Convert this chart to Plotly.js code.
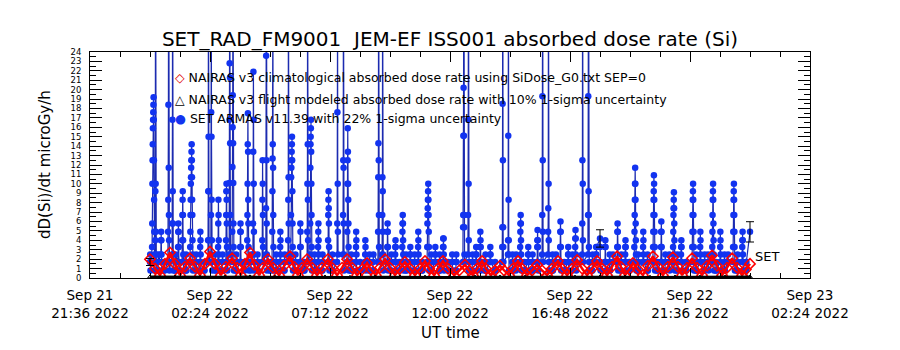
<!DOCTYPE html>
<html>
<head>
<meta charset="utf-8">
<script src="https://cdn.plot.ly/plotly-3.0.1.min.js"></script>
<style>html,body{margin:0;padding:0;background:#fff;}#chart{width:900px;height:350px;}</style>
</head>
<body>
<div id="chart"></div>
<script>
// ---- data (minutes after 2022-09-22 00:00 UT) ----
const xTickVals = ['2022-09-21 21:36','2022-09-22 02:24','2022-09-22 07:12','2022-09-22 12:00','2022-09-22 16:48','2022-09-22 21:36','2022-09-23 02:24'];
const xTickText = ['Sep 21<br>21:36 2022','Sep 22<br>02:24 2022','Sep 22<br>07:12 2022','Sep 22<br>12:00 2022','Sep 22<br>16:48 2022','Sep 22<br>21:36 2022','Sep 23<br>02:24 2022'];

// SET ARMAS: sample groups (start minute) and the dose-rate samples in each group
const blueColTime = [0,5,12,19,26,34,43,53,60,67,
77,86,96,110,120,130,139,146,156,163,
173,182,190,197,206,216,226,233,242,247,
257,269,278,288,293,302,312,322,331,338,
348,360,370,377,384,394,403,413,427,437,
449,463,473,482,494,504,516,526,535,547,
557,569,578,588,598,605,614,624,634,643,
653,665,674,684,694,703,715,725,734,751,
763,773,782,792,804,816,828,845,859,869,
878,888,898,907,917,929,941,955,965,974,
984,994,1003,1013,1020,1037,1051,1061,1070,1080,
1092,1102,1111,1121,1130,1140,1150,1162,1171,1183,
1193,1207,1217,1226,1236,1246,1255,1265,1274,1286,
1301,1310,1320,1330,1339,1349,1358,1368,1378,1387,
1399,1409,1421,1430,1440];
const blueColVals = [
[1.7,2.5,1.7,0.8],
[3.3,5.8,10.0,12.5,14.2,15.9,16.8,17.6,18.4,19.2,16.8,12.5,8.3,4.9,2.5,0.8],
[1.7,4.0,9.2,40,10.0,4.9,2.5,1.7,0.8],
[0.8,1.7,0.8,2.5,1.7],
[2.5,4.0,4.9,4.0,2.5,1.7,0.8],
[0.8,1.7,0.8],
[1.7,4.9,8.3,18.4,45,11.7,6.7,4.0,1.7,0.8],
[2.5,5.8,16.8,38,9.2,5.8,2.5,0.8],
[0.8,1.7,0.8,2.5],
[1.7,3.3,4.9,5.8,4.9,3.3,1.7,0.8],
[1.7,4.0,6.7,8.3,9.2,6.7,4.0,2.5,1.7,0.8],
[0.8,1.7,2.5,1.7,0.8],
[1.7,3.3,4.9,6.7,8.3,10.0,10.7,11.7,12.5,13.4,14.2,12.5,10.7,8.3,6.7,4.0,2.5,1.7,0.8],
[0.8,1.7,2.5,1.7,0.8],
[1.7,3.3,4.9,4.0,2.5,0.8],
[0.8,1.7,0.8],
[1.7,4.0,9.2,35,15.0,9.2,4.0,1.7],
[2.5,6.7,17.6,30,15.0,8.3,4.0,1.7,0.8],
[0.8,1.7,2.5,1.7,0.8],
[1.7,3.3,5.8,8.3,6.7,4.0,2.5,0.8],
[0.8,1.7,0.8,2.5,1.7],
[1.7,4.0,6.7,9.2,10.0,8.3,5.8,3.3,1.7,0.8],
[2.5,10.1,16.8,22.8,40,21.3,14.3,6.7,2.5],
[1.7,4.9,11.8,16.0,19.4,35,14.3,10.1,5.8,3.3,1.7,0.8],
[0.8,1.7,2.5,1.7,0.8],
[1.7,3.3,4.9,5.8,4.9,3.3,1.7],
[0.8,1.7,0.8],
[1.7,4.0,6.7,10.0,14.2,17.5,13.4,8.3,5.8,3.3,1.7,0.8],
[0.8,1.7,2.5,1.7],
[2.5,5.8,13.4,21.9,16.8,10.0,4.9,2.5,0.8],
[0.8,1.7,0.8,2.5,1.7,0.8],
[1.7,4.0,8.3,12.5,10.0,6.7,3.3,1.7],
[2.5,7.4,23.6,45,12.5,5.8,2.5,0.8],
[0.8,1.7,0.8],
[1.7,4.9,9.2,12.7,14.2,30,11.7,6.7,3.3,1.7,0.8],
[0.8,1.7,2.5,1.7,0.8],
[1.7,3.3,4.9,4.0,2.5,0.8],
[0.8,1.7,0.8,2.5,1.7],
[1.7,4.0,8.3,40,10.7,5.8,2.5],
[2.5,6.7,10.7,11.7,12.5,13.4,14.2,15.0,12.5,9.2,5.8,3.3,1.7,0.8],
[0.8,1.7,0.8,2.5,1.7],
[1.7,3.3,5.8,4.9,3.3,1.7,0.8],
[0.8,1.7,0.8],
[1.7,4.9,10.0,35,14.2,8.3,4.0,1.7],
[2.5,5.8,11.7,14.2,15.0,15.9,16.8,13.4,10.0,6.7,3.3,1.7,0.8],
[0.8,1.7,2.5,1.7,0.8],
[1.7,3.3,4.9,5.8,4.0,2.5,0.8],
[0.8,1.7,0.8,2.5,1.7],
[1.7,4.0,6.7,8.3,9.2,7.4,5.8,3.3,1.7,0.8],
[0.8,1.7,2.5,1.7,0.8],
[1.7,5.8,17.6,30,10.0,4.9,2.5],
[2.5,6.7,12.5,38,11.7,5.8,2.5,0.8],
[1.7,4.9,10.0,12.5,15.9,13.4,10.0,8.3,5.8,3.3,1.7,0.8],
[0.8,1.7,0.8,2.5,1.7,0.8],
[1.7,3.3,4.9,4.0,2.5,0.8],
[0.8,1.7,0.8],
[1.7,2.5,4.0,3.3,1.7,0.8],
[0.8,1.7,2.5,1.7,0.8],
[0.8,1.7,0.8,2.5],
[1.7,4.9,10.7,14.3,40,12.5,6.7,3.3,1.7],
[2.5,6.7,10.7,35,9.2,4.9,2.5,0.8],
[1.7,3.3,4.9,5.8,4.9,3.3,1.7,0.8],
[0.8,1.7,0.8,2.5,1.7],
[1.7,2.5,3.3,4.0,3.3,1.7,0.8],
[0.8,1.7,0.8],
[1.7,3.3,4.9,5.8,6.7,5.8,4.0,2.5,1.7,0.8],
[0.8,1.7,2.5,1.7,0.8],
[1.7,2.5,3.3,2.5,1.7,0.8],
[0.8,1.7,0.8,2.5,1.7],
[1.7,3.3,4.9,4.0,2.5,0.8],
[0.8,1.7,0.8],
[1.7,3.3,5.8,6.7,7.4,8.3,9.2,10.0,8.3,6.7,4.9,3.3,1.7,0.8],
[0.8,1.7,2.5,1.7,0.8],
[1.7,2.5,3.3,2.5,1.7],
[0.8,1.7,0.8,2.5,1.7,0.8],
[1.7,3.3,4.2,3.3,4.2,2.5,1.7,0.8],
[0.8,1.7,0.8],
[1.7,2.5,1.7,0.8],
[0.8,1.7,0.8,2.5,1.7],
[1.7,5.4,6.7,15.1,20.2,45,15.1,6.7,5.4,2.5,1.7],
[2.5,6.7,16.8,38,10.0,4.0,1.7,0.8],
[0.8,1.7,0.8,2.5,1.7],
[1.7,2.5,3.3,2.5,1.7,0.8],
[1.7,3.3,4.9,4.0,3.3,1.7,0.8],
[0.8,1.7,0.8,2.5,1.7,0.8],
[1.7,2.5,3.3,2.5,1.7],
[0.8,1.7,0.8],
[1.7,3.3,5.4,18.5,45,12.5,5.4,3.3,1.7],
[2.5,4.0,15.1,40,8.3,4.0,2.5,0.8],
[0.8,1.7,0.8,2.5,1.7,0.8],
[0.8,1.7,2.5,1.7],
[1.7,3.3,4.9,5.8,6.7,5.8,4.0,2.5,1.7,0.8],
[0.8,1.7,0.8],
[1.7,2.5,3.3,2.5,1.7,0.8],
[0.8,1.7,0.8,2.5,1.7],
[1.7,3.3,4.0,5.1,4.0,3.3,1.7,0.8],
[2.5,6.7,19.3,45,12.5,4.9,1.7],
[2.5,4.9,7.4,35,10.0,4.0,1.7,0.8],
[0.8,1.7,0.8,2.5,1.7,0.8],
[1.7,2.5,1.7],
[1.7,3.3,4.9,6.0,4.9,3.3,1.7,0.8],
[0.8,1.7,0.8],
[1.7,2.5,3.3,2.5,1.7,0.8],
[0.8,1.7,2.5,1.7],
[1.7,3.3,4.2,5.1,4.2,2.5,1.7,0.8],
[2.5,5.8,12.5,40,10.0,4.0,1.7],
[2.5,6.7,19.3,45,9.2,6.7,3.3,1.7,0.8],
[0.8,1.7,0.8,2.5,1.7],
[1.7,2.5,3.3,2.5,1.7,3.3],
[4.2,3.3,1.7,0.8],
[1.7,3.3,4.0,3.3,1.7,0.8],
[0.8,1.7,0.8,2.5,1.7,0.8],
[1.7,2.5,1.7],
[1.7,3.3,4.9,5.8,4.9,3.3,1.7,0.8],
[0.8,1.7,0.8,2.5,1.7],
[1.7,2.5,3.3,4.0,3.3,1.7,0.8],
[0.8,1.7,0.8],
[1.7,3.3,4.9,6.7,8.3,10.0,11.7,10.0,8.3,5.8,4.0,2.5,1.7,0.8],
[0.8,1.7,2.5,1.7,0.8],
[1.7,3.3,4.9,4.0,2.5,1.7],
[0.8,1.7,0.8,2.5,1.7,0.8],
[1.7,3.3,4.9,6.7,8.3,9.2,10.9,10.0,8.3,6.7,4.9,3.3,1.7,0.8],
[0.8,1.7,0.8],
[1.7,3.3,4.9,6.0,4.9,3.3,1.7,0.8],
[0.8,1.7,2.5,1.7],
[1.7,2.5,1.7,0.8],
[1.7,3.3,4.9,6.7,7.4,8.3,9.1,7.4,5.8,4.0,2.5,1.7,0.8],
[0.8,1.7,0.8,2.5,1.7],
[1.7,2.5,3.3,4.0,3.3,1.7,0.8],
[0.8,1.7,0.8],
[1.7,3.3,4.9,6.7,8.3,9.2,10.0,8.3,6.7,4.9,3.3,1.7,0.8],
[0.8,1.7,2.5,1.7,0.8],
[1.7,3.3,4.9,4.0,2.5,1.7],
[0.8,1.7,0.8,2.5,1.7],
[1.7,2.5,1.7,0.8],
[1.7,3.3,4.9,6.7,8.3,9.2,10.0,8.3,5.8,4.0,2.5,1.7,0.8],
[0.8,1.7,0.8],
[1.7,3.3,4.9,4.0,2.5,0.8],
[0.8,1.7,2.5,1.7,0.8],
[1.7,2.5,1.7],
[1.7,3.3,4.9,6.7,8.3,9.2,10.0,8.3,6.7,4.9,3.3,1.7,0.8],
[0.8,1.7,0.8,2.5,1.7],
[1.7,3.3,4.0,4.9,4.0,2.5,1.7,0.8],
[0.8,1.7,0.8,1.7],
[4.9]
];
const blueSampleStep = 0.4; // minutes between samples inside a group

// ARMAS points shown with 22% 1-sigma error bars
const armasErrT = [0, 1080, 1440];
const armasErrV = [1.7, 4.2, 4.9];
const armasUnc = 0.22;

// NAIRAS v3 climatological (red diamonds)
const redT = [0,12,24,36,48,60,72,84,96,108,120,132,144,156,170,182,197,209,218,228,240,250,262,271,283,295,310,322,336,346,355,365,377,389,401,413,427,437,449,461,473,485,497,509,521,530,542,552,564,576,588,600,612,624,636,648,660,670,682,691,703,715,730,742,756,766,775,785,797,806,818,828,840,850,862,871,883,893,905,917,929,941,953,965,979,989,1001,1013,1025,1037,1049,1061,1073,1085,1097,1109,1121,1130,1140,1150,1159,1171,1183,1195,1207,1219,1231,1243,1255,1267,1277,1289,1301,1313,1325,1337,1349,1361,1373,1385,1397,1409,1421,1430,1440];
const redV = [2.0,1.0,0.3,1.5,2.7,1.5,0.3,1.2,2.1,1.2,0.3,1.5,2.8,1.5,0.3,1.2,2.1,1.1,0.3,1.5,2.7,1.4,0.3,1.1,2.0,1.1,0.3,1.3,2.3,1.2,0.3,1.1,2.0,1.1,0.3,1.1,2.0,1.1,0.3,1.1,2.0,1.1,0.3,0.9,1.6,0.9,0.3,1.1,2.0,1.1,0.3,1.0,1.7,1.0,0.3,1.0,1.8,1.0,0.3,1.0,1.8,1.0,0.3,0.8,1.4,0.8,0.3,1.0,1.8,1.0,0.3,0.8,1.3,0.8,0.3,1.0,1.8,1.0,0.3,0.8,1.4,0.8,0.3,1.0,1.8,1.0,0.3,1.0,1.9,1.0,0.3,1.0,1.8,1.0,0.3,1.2,2.3,1.2,0.3,0.9,1.6,0.9,0.3,1.3,2.3,1.2,0.3,1.2,2.2,1.2,0.3,1.1,2.1,1.1,0.3,1.3,2.4,1.3,0.3,1.1,2.1,1.1,0.3,0.9,1.5];

// NAIRAS v3 flight modeled (black triangles)
const flightT = [0,60,120,180,240,300,360,420,480,540,600,660,720,780,840,900,960,1020,1080,1140,1200,1260,1320,1380,1440];
const flightV = [0.12,0.10,0.08,0.10,0.12,0.09,0.10,0.11,0.08,0.10,0.12,0.10,0.09,0.10,0.11,0.10,0.08,0.10,0.12,0.10,0.09,0.11,0.10,0.10,0.12];

// ---- build ----
function minToDate(m){
  const d = new Date(Date.UTC(2022,8,22,0,0,0) + Math.round(m*60000));
  return d.toISOString().replace('T',' ').replace('Z','');
}
const bx = [], by = [];
const nCol = Math.min(blueColTime.length, blueColVals.length);
for (let c = 0; c < nCol; c++) {
  const vals = blueColVals[c];
  for (let i = 0; i < vals.length; i++) {
    bx.push(minToDate(blueColTime[c] + i*blueSampleStep));
    by.push(vals[i]);
  }
}

const FONT = 'DejaVu Sans, Liberation Sans, sans-serif';

const traces = [
  {x: bx, y: by, type:'scatter', mode:'lines+markers',
   line:{color:'#1c2bb0', width:1.2},
   marker:{color:'#1233f0', size:6.5, symbol:'circle'}, hoverinfo:'skip'},
  {x: redT.map(minToDate), y: redV, type:'scatter', mode:'lines+markers',
   line:{color:'#ff0000', width:2.5},
   marker:{color:'#ff0000', size:8, symbol:'diamond-open', line:{width:1.5, color:'#ff0000'}}, hoverinfo:'skip'},
  {x: flightT.map(minToDate), y: flightV, type:'scatter', mode:'lines+markers',
   line:{color:'#000000', width:2.5},
   marker:{color:'#000000', size:4, symbol:'triangle-up-open'}, hoverinfo:'skip'},
  {x: armasErrT.map(minToDate), y: armasErrV, type:'scatter', mode:'markers',
   marker:{color:'rgba(0,0,0,0)', size:1},
   error_y:{type:'data', array: armasErrV.map(v=>v*armasUnc), color:'#000000', thickness:1, width:4}, hoverinfo:'skip'}
];

const layout = {
  width: 900, height: 350,
  margin: {l:90, r:90, t:52, b:72},
  paper_bgcolor:'#ffffff', plot_bgcolor:'#ffffff',
  showlegend: false,
  font: {family: FONT, color:'#000000'},
  title: {text:'SET_RAD_FM9001\u00A0 JEM-EF ISS001 absorbed dose rate (Si)',
          font:{family: FONT, size:20, color:'#000'},
          x:0.5, xanchor:'center', y:0.89, yanchor:'middle', yref:'container'},
  xaxis: {
    type:'date', range:['2022-09-21 21:36','2022-09-23 02:24'],
    tickmode:'array', tickvals: xTickVals, ticktext: xTickText,
    ticks:'inside', ticklen:10, tickcolor:'#000', tickwidth:1,
    showline:true, linecolor:'#000', linewidth:1, mirror:'ticks',
    showgrid:false, zeroline:false,
    tickfont:{family: FONT, size:13.5, color:'#000'},
    ticklabelstandoff: 5,
    minor:{tick0:'2022-09-21 21:36', dtick: 4320000, ticks:'inside', ticklen:5, tickcolor:'#000', showgrid:false}
  },
  yaxis: {
    range:[0,24], tick0:0, dtick:1,
    ticks:'inside', ticklen:12, tickcolor:'#000', tickwidth:1,
    showline:true, linecolor:'#000', linewidth:1, mirror:'ticks',
    showgrid:false, zeroline:false,
    tickfont:{family: FONT, size:8.5, color:'#000'},
    ticklabelstandoff: 6,
    minor:{dtick:0.5, ticks:'inside', ticklen:6, tickcolor:'#000', showgrid:false}
  },
  annotations: [
    {xref:'paper', yref:'paper', x:0.5, y:-0.245, text:'UT time', showarrow:false,
     xanchor:'center', yanchor:'middle', font:{family: FONT, size:15, color:'#000'}},
    {xref:'paper', yref:'paper', x:-0.0625, y:0.5, text:'dD(Si)/dt microGy/h', showarrow:false,
     textangle:-90, xanchor:'center', yanchor:'middle', font:{family: FONT, size:15, color:'#000'}},
    {xref:'paper', yref:'paper', x:0.115, y:0.885, xanchor:'left', yanchor:'middle', showarrow:false,
     text:'<span style="color:#e00000">\u25C7</span> NAIRAS v3 climatological absorbed dose rate using SiDose_G0.txt SEP=0',
     font:{family: FONT, size:12.5, color:'#000'}},
    {xref:'paper', yref:'paper', x:0.115, y:0.792, xanchor:'left', yanchor:'middle', showarrow:false,
     text:'\u25B3 NAIRAS v3 flight modeled absorbed dose rate with 10% 1-sigma uncertainty',
     font:{family: FONT, size:12.5, color:'#000'}},
    {xref:'paper', yref:'paper', x:0.115, y:0.704, xanchor:'left', yanchor:'middle', showarrow:false,
     text:'<span style="color:#1233f0">\u25CF</span> SET ARMAS v11.39 with 22% 1-sigma uncertainty',
     font:{family: FONT, size:12.5, color:'#000'}},
    {xref:'x', yref:'y', x: minToDate(1447), y:2.3, xanchor:'left', yanchor:'middle', showarrow:false,
     text:'SET', font:{family: FONT, size:13, color:'#000'}}
  ]
};

Plotly.newPlot('chart', traces, layout, {staticPlot:true, displayModeBar:false});
</script>
</body>
</html>
